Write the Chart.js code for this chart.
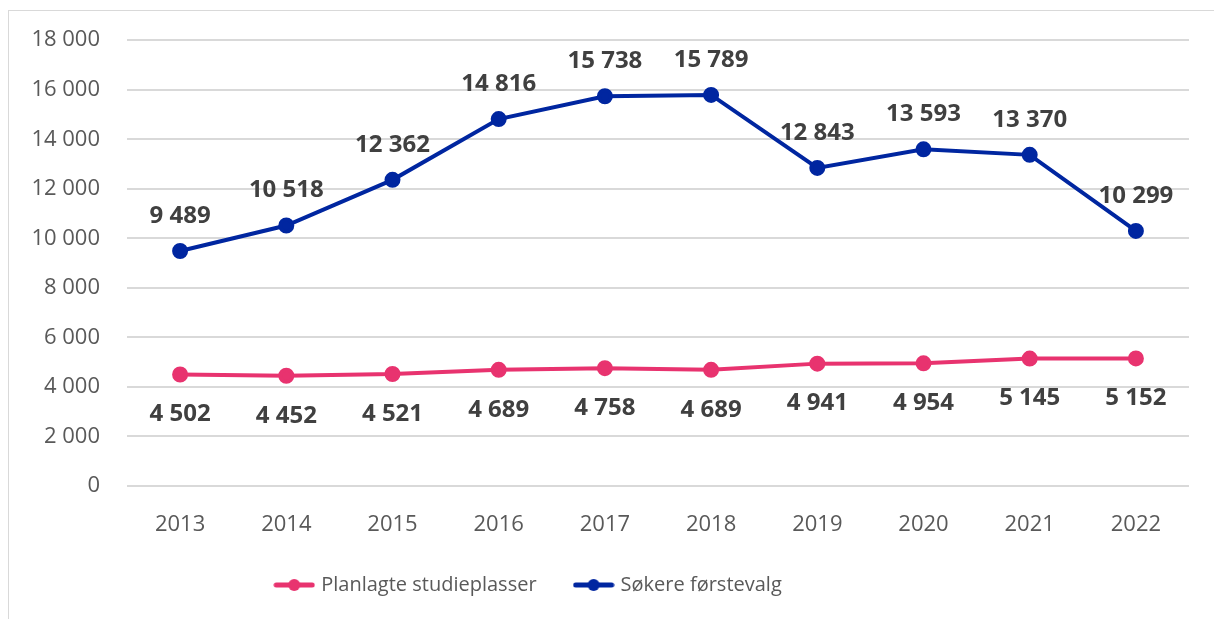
<!DOCTYPE html>
<html>
<head>
<meta charset="utf-8">
<script src="https://cdn.jsdelivr.net/npm/chart.js@4.4.1/dist/chart.umd.min.js"></script>
<style>
  html, body { margin: 0; padding: 0; background: #fff; }
  #frame {
    position: absolute; left: 8px; top: 10px; width: 1300px; height: 700px;
    border-left: 1px solid #d9d9d9; border-top: 1px solid #d9d9d9;
  }
  #wrap { position: absolute; left: 0; top: 0; width: 1214px; height: 619px; }
</style>
</head>
<body>
<div id="frame"></div>
<div id="wrap"><canvas id="chart" width="1214" height="619"></canvas></div>
<script>
  const PINK = "#e8336f";
  const BLUE = "#0026a0";

  const years = ["2013", "2014", "2015", "2016", "2017", "2018", "2019", "2020", "2021", "2022"];
  const planlagte = [4502, 4452, 4521, 4689, 4758, 4689, 4941, 4954, 5145, 5152];
  const sokere = [9489, 10518, 12362, 14816, 15738, 15789, 12843, 13593, 13370, 10299];
  const yTicks = [0, 2000, 4000, 6000, 8000, 10000, 12000, 14000, 16000, 18000];

  const FONT = "'Open Sans', sans-serif";

  // "12 362" style thousands separator
  const fmt = (v) => String(v).replace(/\B(?=(\d{3})+(?!\d))/g, " ");

  // legend marker: line with a dot in the middle
  const legendMark = (color) => {
    const c = document.createElement("canvas");
    c.width = 42;
    c.height = 14;
    const g = c.getContext("2d");
    g.strokeStyle = color;
    g.lineWidth = 5;
    g.lineCap = "round";
    g.beginPath();
    g.moveTo(3, 7);
    g.lineTo(39, 7);
    g.stroke();
    g.fillStyle = color;
    g.beginPath();
    g.arc(21, 7, 6, 0, Math.PI * 2);
    g.fill();
    return c;
  };

  // simple value labels: above for the blue series, below for the pink one
  const valueLabels = {
    id: "valueLabels",
    afterDatasetsDraw(chart) {
      const ctx = chart.ctx;
      ctx.save();
      ctx.font = `bold 24px ${FONT}`;
      ctx.fillStyle = "#404040";
      ctx.textAlign = "center";
      ctx.textBaseline = "middle";
      chart.data.datasets.forEach((ds, i) => {
        const meta = chart.getDatasetMeta(i);
        const dy = ds.labelOffset;
        meta.data.forEach((pt, j) => {
          ctx.fillText(fmt(ds.data[j]), pt.x, pt.y + dy);
        });
      });
      ctx.restore();
    },
  };

  // the legend sits a bit left of centre in the original
  const legendShift = {
    id: "legendShift",
    afterLayout(chart) {
      if (!chart.legend) return;
      chart.legend.left -= 65;
      chart.legend.right -= 65;
    },
  };

  new Chart(document.getElementById("chart"), {
    type: "line",
    data: {
      labels: years,
      datasets: [
        {
          label: "Planlagte studieplasser",
          data: planlagte,
          borderColor: PINK,
          backgroundColor: PINK,
          borderWidth: 4,
          pointRadius: 6,
          pointBackgroundColor: PINK,
          pointBorderColor: PINK,
          tension: 0,
          labelOffset: 40,
        },
        {
          label: "Søkere førstevalg",
          data: sokere,
          borderColor: BLUE,
          backgroundColor: BLUE,
          borderWidth: 4,
          pointRadius: 6,
          pointBackgroundColor: BLUE,
          pointBorderColor: BLUE,
          tension: 0,
          labelOffset: -35,
        },
      ],
    },
    options: {
      responsive: false,
      animation: false,
      layout: { padding: { top: 40, right: 25, left: 0, bottom: 14 } },
      plugins: {
        tooltip: { enabled: false },
        legend: {
          position: "bottom",
          labels: {
            usePointStyle: true,
            pointStyleWidth: 34,
            padding: 40,
            color: "#595959",
            font: { family: FONT, size: 20 },
            generateLabels: (chart) =>
              chart.data.datasets.map((ds, i) => ({
                text: ds.label,
                pointStyle: legendMark(ds.borderColor),
                fillStyle: ds.borderColor,
                strokeStyle: ds.borderColor,
                lineWidth: 0,
                fontColor: "#595959",
                hidden: false,
                datasetIndex: i,
              })),
          },
        },
      },
      scales: {
        x: {
          offset: true,
          afterFit: (scale) => {
            scale.height = 49;
          },
          grid: { display: false, drawTicks: false },
          border: { display: false },
          ticks: {
            color: "#595959",
            font: { family: FONT, size: 22 },
            padding: 26,
          },
        },
        y: {
          min: 0,
          max: 18000,
          afterBuildTicks: (scale) => {
            scale.ticks = yTicks.map((v) => ({ value: v }));
          },
          afterFit: (scale) => {
            scale.width = 127;
          },
          grid: { color: "#d9d9d9", lineWidth: 2, drawTicks: false },
          border: { display: false },
          ticks: {
            color: "#595959",
            font: { family: FONT, size: 22 },
            padding: 27,
            callback: (v) => fmt(v),
          },
        },
      },
    },
    plugins: [valueLabels, legendShift],
  });
</script>
</body>
</html>
